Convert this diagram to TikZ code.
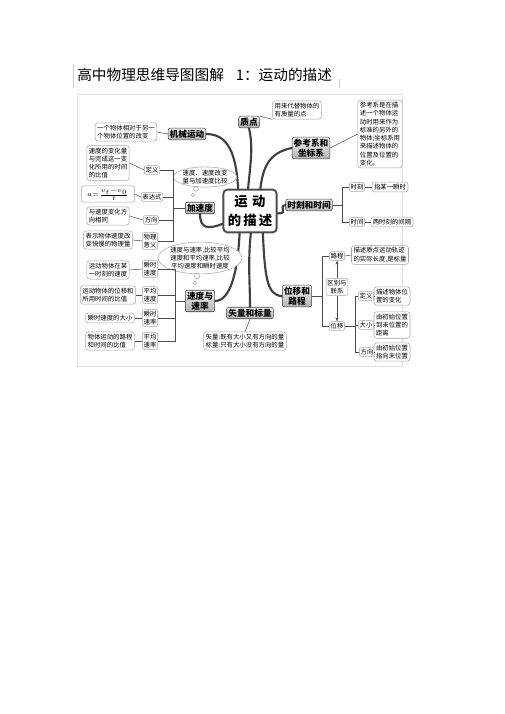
\documentclass[tikz,border=0pt]{standalone}
\usepackage{fontspec}
\setmainfont{Noto Sans CJK SC}
\usetikzlibrary{arrows.meta,shapes.geometric}

\begin{document}
\begin{tikzpicture}[x=0.75pt,y=0.75pt,yscale=-1,xscale=1,
  mainbox/.style={draw=gray!50!black,rounded corners=1.5pt,top color=gray!8,bottom color=gray!60,inner sep=1.2pt,font=\fontsize{6.5}{7.5}\selectfont\bfseries,align=center},
  descbox/.style={draw=gray!70,rounded corners=2pt,fill=white,inner sep=1.5pt,font=\fontsize{4.8}{6.2}\selectfont,align=left},
  tagbox/.style={draw=gray!70,rounded corners=1.5pt,fill=white,inner sep=1pt,font=\fontsize{4.8}{6.2}\selectfont,align=center},
  thought/.style={ellipse,draw=gray!70,fill=white,inner sep=0pt,font=\fontsize{4.8}{6.2}\selectfont,align=center},
  bubble/.style={circle,draw=gray!70,fill=white,inner sep=0pt},
  branch/.style={draw=black!75,line width=1.6pt,line cap=round},
  link/.style={draw=gray!60!black,line width=0.4pt}]
\useasboundingbox (0,0) rectangle (505,714);

% title
\node[anchor=west,inner sep=0pt,font=\fontsize{11}{13}\selectfont] (title) at (77,75) {高中物理思维导图图解\hspace{9pt}1：运动的描述};
\draw[gray!35] (73,64) -- (73,88);
\draw[gray!35] (339,79) -- (339,88);

% frame of the map
\draw[gray!25] (77,94) rectangle (402,366);

% centre
\node[draw=black!70,line width=1.4pt,rounded corners=3pt,fill=white,minimum width=39pt,minimum height=32pt,font=\fontsize{10}{14}\selectfont\bfseries,align=center] (zhongxin) at (250,211) {运\,\,动\\的\,描\,述};

% main branches
\node[mainbox] (zhidian) at (249,122) {质点};
\node[mainbox] (jixie) at (187,134) {机械运动};
\node[mainbox] (cankao) at (311,148) {参考系和\\坐标系};
\node[mainbox] (shike) at (309,205) {时刻和时间};
\node[mainbox] (jiasudu) at (200,208) {加速度};
\node[mainbox] (sudu) at (200,301) {速度与\\速率};
\node[mainbox] (shiliang) at (250,313) {矢量和标量};
\node[mainbox] (weiyi) at (297,296) {位移和\\路程};

\draw[branch] (zhongxin.95) .. controls +(3,-30) and +(4,18) .. (zhidian.south);
\draw[branch] (zhongxin.118) .. controls +(-2,-35) and +(22,0) .. (jixie.east);
\draw[branch] (zhongxin.65) .. controls +(3,-28) and +(-18,4) .. (cankao.west);
\draw[branch] (zhongxin.-5) .. controls +(12,0) and +(-8,2) .. (shike.west);
\draw[branch] (zhongxin.205) .. controls +(-15,6) and +(0,14) .. (jiasudu.south);
\draw[branch] (zhongxin.245) .. controls +(-2,38) and +(16,0) .. (sudu.east);
\draw[branch] (zhongxin.272) .. controls +(-3,30) and +(0,-25) .. (shiliang.north);
\draw[branch] (zhongxin.300) .. controls +(2,40) and +(-16,0) .. (weiyi.west);

% 质点, 机械运动, 参考系
\node[descbox] (d_zhidian) at (297,110) {用来代替物体的\\有质量的点};
\node[descbox] (d_jixie) at (126,132) {一个物体相对于另一\\个物体位置的改变};
\node[descbox] (d_cankao) at (380,134) {参考系是在描\\述一个物体运\\动时用来作为\\标准的另外的\\物体;坐标系用\\来描述物体的\\位置及位置的\\变化。};
\draw[link] (zhidian.north east) -- (d_zhidian.south west);
\draw[link] (jixie.west) -- (d_jixie.east);
\draw[link] (cankao.east) -- (d_cankao.west);

% 加速度
\node[thought] (c_jia) at (205,177) {速度、速度改变\\量与加速度比较};
\node[bubble,minimum size=3.5pt] (b_jia1) at (196,189) {};
\node[bubble,minimum size=2.5pt] (b_jia2) at (193,195) {};
\node[tagbox] (t_dingyi) at (152,170) {定义};
\node[tagbox] (t_biaodashi) at (152,197) {表达式};
\node[tagbox] (t_fangxiang) at (151,220) {方向};
\node[tagbox] (t_yiyi) at (150,241) {物理\\意义};
\node[descbox] (d_dingyi) at (108,163) {速度的变化量\\与完成这一变\\化所用的时间\\的比值};
\node[descbox,minimum width=40pt,minimum height=12pt] (d_biaodashi) at (108,194) {$\scriptscriptstyle a=\frac{v_t-v_0}{t}$};
\node[descbox] (d_fangxiang) at (108,216) {与速度变化方\\向相同};
\node[descbox] (d_yiyi) at (108,240) {表示物体速度改\\变快慢的物理量};
\coordinate (jbar) at (173,208);
\draw[link] (jiasudu.west) -- (jbar);
\foreach \t in {t_dingyi,t_biaodashi,t_fangxiang,t_yiyi}
  \draw[link] (jbar) |- (\t.east);
\foreach \d/\t in {d_dingyi/t_dingyi,d_biaodashi/t_biaodashi,d_fangxiang/t_fangxiang,d_yiyi/t_yiyi}
  \draw[link] (\d.east) -- (\t.west);

% 速度与速率
\node[thought] (c_su) at (200,258) {速度与速率,比较平均\\速度和平均速率,比较\\平均速度和瞬时速度};
\node[bubble,minimum size=4pt] (b_su1) at (197,276) {};
\node[bubble,minimum size=2.5pt] (b_su2) at (195,283) {};
\node[tagbox] (t_shunshi) at (150,269) {瞬时\\速度};
\node[tagbox] (t_pingjun) at (150,295) {平均\\速度};
\node[tagbox] (t_shunshilv) at (150,318) {瞬时\\速率};
\node[tagbox] (t_pingjunlv) at (150,341) {平均\\速率};
\node[descbox] (d_shunshi) at (108,270) {运动物体在某\\一时刻的速度};
\node[descbox] (d_pingjun) at (108,295) {运动物体的位移和\\所用时间的比值};
\node[descbox] (d_shunshilv) at (110,318) {瞬时速度的大小};
\node[descbox] (d_pingjunlv) at (110,341) {物体运动的路程\\和时间的比值};
\coordinate (sbar) at (175,301);
\draw[link] (sudu.west) -- (sbar);
\foreach \t in {t_shunshi,t_pingjun,t_shunshilv,t_pingjunlv}
  \draw[link] (sbar) |- (\t.east);
\foreach \d/\t in {d_shunshi/t_shunshi,d_pingjun/t_pingjun,d_shunshilv/t_shunshilv,d_pingjunlv/t_pingjunlv}
  \draw[link] (\d.east) -- (\t.west);

% 矢量和标量
\node[descbox] (d_shiliang) at (245,341) {矢量:既有大小又有方向的量\\标量:只有大小没有方向的量};
\draw[link] (shiliang.south) -- (d_shiliang.north);

% 时刻和时间
\node[tagbox] (t_shike) at (357,187) {时刻};
\node[tagbox] (t_shijian) at (357,222) {时间};
\node[descbox] (d_shike) at (390,187) {指某一瞬时};
\node[descbox] (d_shijian) at (392,222) {两时刻的间隔};
\coordinate (tbar) at (342,205);
\draw[link] (shike.east) -- (tbar);
\foreach \t in {t_shike,t_shijian}
  \draw[link] (tbar) |- (\t.west);
\draw[link] (t_shike.east) -- (d_shike.west);
\draw[link] (t_shijian.east) -- (d_shijian.west);

% 位移和路程
\node[tagbox] (t_lucheng) at (337,256) {路程};
\node[tagbox] (t_qubie) at (337,287) {区别与\\联系};
\node[tagbox] (t_weiyi) at (337,326) {位移};
\node[descbox] (d_lucheng) at (380,255) {描述质点运动轨迹\\的实际长度,是标量};
\draw[link] (t_lucheng.east) -- (d_lucheng.west);
\draw[link,-{Stealth[length=3pt]}] (t_qubie.north) -- (t_lucheng.south);
\draw[link,-{Stealth[length=3pt]}] (t_qubie.south) -- (t_weiyi.north);
\coordinate (wbar) at (322,296);
\draw[link] (weiyi.east) -- (wbar);
\foreach \t in {t_lucheng,t_weiyi}
  \draw[link] (wbar) |- (\t.west);

\node[tagbox] (t_dingyi2) at (366,296) {定义};
\node[tagbox] (t_daxiao) at (366,325) {大小};
\node[tagbox] (t_fangxiang2) at (367,352) {方向};
\node[descbox] (d_dingyi2) at (392,296) {描述物体位\\置的变化};
\node[descbox] (d_daxiao) at (392,325) {由初始位置\\到末位置的\\距离};
\node[descbox] (d_fangxiang2) at (392,352) {由初始位置\\指向末位置};
\coordinate (vbar) at (355,326);
\draw[link] (t_weiyi.east) -- (vbar);
\foreach \t in {t_dingyi2,t_daxiao,t_fangxiang2}
  \draw[link] (vbar) |- (\t.west);
\foreach \d/\t in {d_dingyi2/t_dingyi2,d_daxiao/t_daxiao,d_fangxiang2/t_fangxiang2}
  \draw[link] (\t.east) -- (\d.west);

\end{tikzpicture}
\end{document}
